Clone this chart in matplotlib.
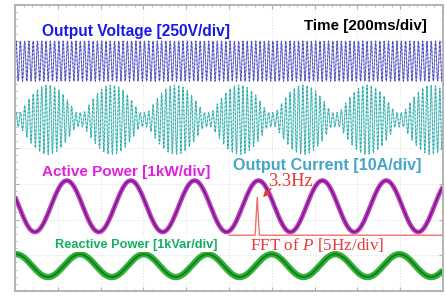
import numpy as np
import matplotlib.pyplot as plt

plt.rcParams["mathtext.fontset"] = "custom"
plt.rcParams["mathtext.it"] = "Liberation Serif:italic"
plt.rcParams["mathtext.rm"] = "Liberation Serif"

# ------------------------------------------------------------
# Screen settings (10 div x 200 ms, 8 vertical div)
# ------------------------------------------------------------
MS_PER_DIV = 200
N_DIV_X = 10
N_DIV_Y = 8

# ------------------------------------------------------------
# Trace readings (vertical unit = divisions from bottom)
# ------------------------------------------------------------
# output voltage: [offset, amplitude, line frequency Hz]
voltage_read = [6.43, 0.56, 50.0]
# output current: [offset, min amp, max amp, line freq Hz, envelope peak ms]
current_read = [4.79, 0.20, 0.97, 50.0, 154.0]
# active power: [offset, amplitude, freq Hz, trough ms]
p_read = [2.37, 0.72, 3.35, 93.0]
# reactive power: [offset, amplitude, freq Hz, trough ms]
q_read = [0.71, 0.32, 3.35, 154.0]

# FFT of P (5 Hz/div, drawn from the centre of the screen)
fft_start_ms = 1000
fft_hz_per_div = 5
fft_base = 1.56
fft_freq = [0.0, 3.05, 3.3, 3.55, 25.0]
fft_mag = [0.0, 0.0, 1.06, 0.0, 0.0]

t = np.linspace(0, MS_PER_DIV * N_DIV_X, 24000)

# ------------------------------------------------------------
# Figure
# ------------------------------------------------------------
fig = plt.figure(figsize=(4.46, 2.97), dpi=100)
ax = fig.add_axes([15 / 446, 6 / 297, 428 / 446, 286 / 297])
ax.set_xlim(0, MS_PER_DIV * N_DIV_X)
ax.set_ylim(0, N_DIV_Y)

# grid
ax.set_xticks(np.arange(0, MS_PER_DIV * N_DIV_X + 1, MS_PER_DIV))
ax.set_yticks(np.arange(0, N_DIV_Y + 1, 1))
ax.set_xticks(np.arange(0, MS_PER_DIV * N_DIV_X + 1, MS_PER_DIV / 5), minor=True)
ax.set_yticks(np.arange(0, N_DIV_Y + 0.01, 0.2), minor=True)
ax.grid(True, which="major", color="#dcdcdc", linestyle=(0, (1, 2)), lw=0.7)
ax.tick_params(which="both", direction="in", labelbottom=False, labelleft=False,
               color="#b0b0b0", top=True, right=True)
ax.tick_params(which="major", length=3)
ax.tick_params(which="minor", length=1.5)
for s in ax.spines.values():
    s.set_color("#b4b4b4")
    s.set_linewidth(1.4)

# output voltage
v_off, v_amp, v_f = voltage_read
v = v_off + v_amp * np.sin(2 * np.pi * v_f * t / 1000.0)
ax.plot(t, v, color="#8080dc", lw=0.7)
ax.plot(t, v, color="#3c3ca8", lw=0.7, ls=(0, (1.5, 2.5)))

# output current
i_off, i_min, i_max, i_f, i_pk = current_read
env = np.maximum(i_min, i_max * np.abs(np.cos(np.pi * p_read[2] * (t - i_pk) / 1000.0)))
cur = i_off + env * np.sin(2 * np.pi * i_f * t / 1000.0)
ax.plot(t, cur, color="#6cd0d0", lw=0.7)
ax.plot(t, cur, color="#2a9a9a", lw=0.7, ls=(0, (1.5, 2.5)))

# active / reactive power
p = p_read[0] - p_read[1] * np.cos(2 * np.pi * p_read[2] * (t - p_read[3]) / 1000.0)
q = q_read[0] - q_read[1] * np.cos(2 * np.pi * q_read[2] * (t - q_read[3]) / 1000.0)
ax.plot(t, p, color="#b848c0", lw=3.4, solid_capstyle="butt")
ax.plot(t, p, color="#8a108a", lw=1.2)
ax.plot(t, q, color="#30b438", lw=4.6, solid_capstyle="butt")
ax.plot(t, q, color="#147c1c", lw=1.4)

# FFT of P
fx = fft_start_ms + np.array(fft_freq) / fft_hz_per_div * MS_PER_DIV
fy = fft_base + np.array(fft_mag)
ax.plot(fx, fy, color="#f07070", lw=1.0)

# ------------------------------------------------------------
# Labels
# ------------------------------------------------------------
ax.text(125, 7.27, "Output Voltage [250V/div]", color="#1818ee",
        fontsize=11.2, fontweight="bold", family="Liberation Sans", va="center")
ax.text(1350, 7.42, "Time [200ms/div]", color="black",
        fontsize=10.9, fontweight="bold", family="Liberation Sans", va="center")
ax.text(125, 3.33, "Active Power [1kW/div]", color="#e020e0",
        fontsize=11, fontweight="bold", family="Liberation Sans", va="center")
ax.text(1020, 3.5, "Output Current [10A/div]", color="#44a6c8",
        fontsize=11.6, fontweight="bold", family="Liberation Sans", va="center",
        bbox=dict(boxstyle="square,pad=0.1", fc="white", ec="none"))
ax.text(185, 1.3, "Reactive Power [1kVar/div]", color="#10b060",
        fontsize=9.2, fontweight="bold", family="Liberation Sans", va="center",
        bbox=dict(boxstyle="square,pad=0.1", fc="white", ec="none"))
ax.text(1183, 3.05, "3.3Hz", color="#e83838", fontsize=13.2,
        family="Liberation Serif", va="center")
ax.text(1100, 1.28, "FFT of $P$ [5Hz/div]", color="#e83838", fontsize=12.3,
        family="Liberation Serif", va="center")
ax.annotate("", xy=(1150, 2.57), xytext=(1205, 2.92),
            arrowprops=dict(arrowstyle="-|>", color="#e83838", lw=1.0,
                            mutation_scale=9))

fig.savefig("out.png", dpi=100)
